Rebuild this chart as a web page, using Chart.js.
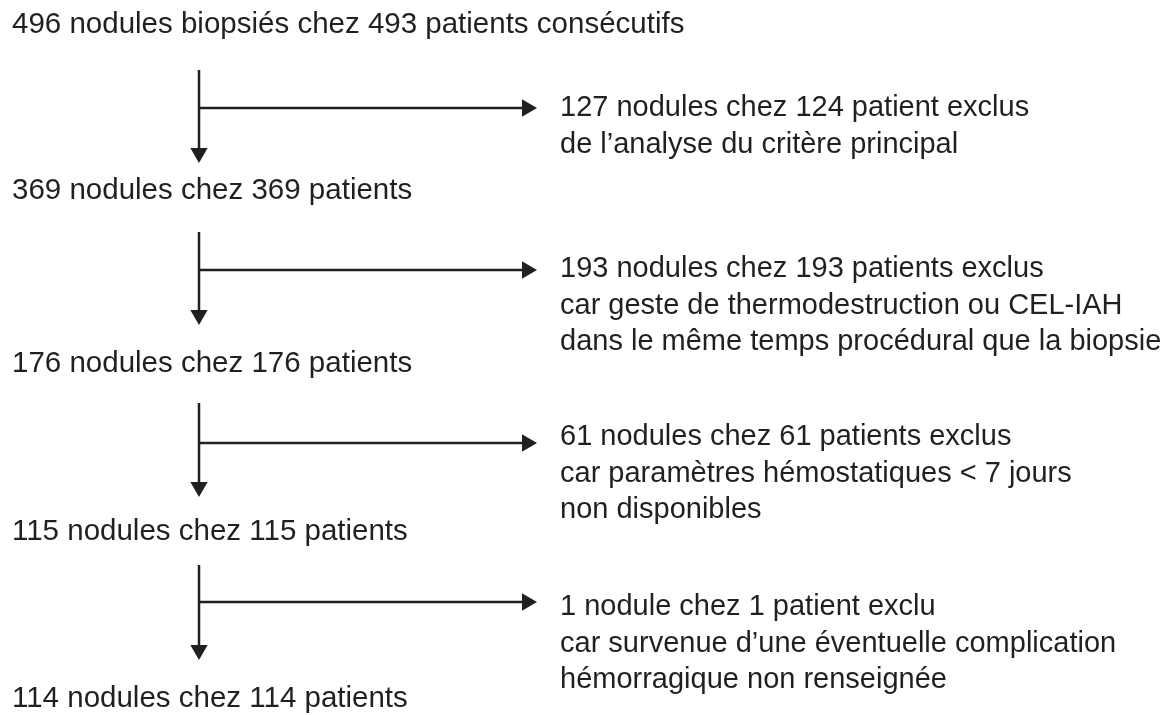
<!DOCTYPE html>
<html lang="fr">
<head>
    <meta charset="utf-8">
    <script src="https://cdn.jsdelivr.net/npm/chart.js"></script>
    <style>
        body { margin: 0; padding: 0; background-color: #ffffff; }
        #flow-wrap { width: 1176px; height: 715px; }
    </style>
</head>
<body>
    <div id="flow-wrap">
        <canvas id="flowChart" width="1176" height="715"></canvas>
    </div>
    <script>
        // Étapes successives (nodules / patients restants)
        const stages = [
            '496 nodules biopsiés chez 493 patients consécutifs',
            '369 nodules chez 369 patients',
            '176 nodules chez 176 patients',
            '115 nodules chez 115 patients',
            '114 nodules chez 114 patients'
        ];

        // Exclusions à chaque étape
        const exclusions = [
            ['127 nodules chez 124 patient exclus',
             'de l\u2019analyse du critère principal'],
            ['193 nodules chez 193 patients exclus',
             'car geste de thermodestruction ou CEL-IAH',
             'dans le même temps procédural que la biopsie'],
            ['61 nodules chez 61 patients exclus',
             'car paramètres hémostatiques < 7 jours',
             'non disponibles'],
            ['1 nodule chez 1 patient exclu',
             'car survenue d\u2019une éventuelle complication',
             'hémorragique non renseignée']
        ];

        // Mise en page (unités des axes = pixels)
        const layout = {
            stageX: 12,
            stageBaseline: [33, 199, 372, 540, 707],
            stemX: 199,
            stemTop: [70, 232, 403, 565],
            stemTip: [163, 325, 497, 660],
            branchY: [108, 270, 443, 602],
            branchTip: 537,
            exclX: 560,
            exclBaseline: [116, 277, 445, 615],
            lineGap: 36.5,
            headR: 10
        };

        const INK = '#231f20';
        const STAGE_FONT = '29.5px "Liberation Sans", Arial, sans-serif';
        const EXCL_FONT = '29px "Liberation Sans", Arial, sans-serif';

        const lineSets = [];
        layout.stemTop.forEach((top, i) => {
            lineSets.push({
                data: [{x: layout.stemX, y: top}, {x: layout.stemX, y: layout.stemTip[i] - layout.headR}]
            });
            lineSets.push({
                data: [{x: layout.stemX - 1, y: layout.branchY[i]}, {x: layout.branchTip - layout.headR, y: layout.branchY[i]}]
            });
        });

        const datasets = lineSets.map(d => ({
            data: d.data,
            showLine: true,
            borderColor: INK,
            borderWidth: 2.5,
            pointRadius: 0
        }));

        // Pointes de flèche
        datasets.push({
            data: layout.stemTip.map(t => ({x: layout.stemX, y: t - layout.headR})),
            pointStyle: 'triangle',
            rotation: 180,
            pointRadius: layout.headR,
            backgroundColor: INK,
            borderWidth: 0
        });
        datasets.push({
            data: layout.branchY.map(b => ({x: layout.branchTip - layout.headR, y: b})),
            pointStyle: 'triangle',
            rotation: 90,
            pointRadius: layout.headR,
            backgroundColor: INK,
            borderWidth: 0
        });

        // Texte des étapes et des exclusions
        const flowText = {
            id: 'flowText',
            afterDatasetsDraw(chart) {
                const {ctx, scales: {x, y}} = chart;
                ctx.save();
                ctx.fillStyle = INK;
                ctx.textAlign = 'left';
                ctx.textBaseline = 'alphabetic';
                ctx.font = STAGE_FONT;
                stages.forEach((label, i) => {
                    ctx.fillText(label, x.getPixelForValue(layout.stageX), y.getPixelForValue(layout.stageBaseline[i]));
                });
                ctx.font = EXCL_FONT;
                exclusions.forEach((lines, i) => {
                    lines.forEach((line, j) => {
                        ctx.fillText(line, x.getPixelForValue(layout.exclX),
                            y.getPixelForValue(layout.exclBaseline[i] + j * layout.lineGap));
                    });
                });
                ctx.restore();
            }
        };

        new Chart(document.getElementById('flowChart').getContext('2d'), {
            type: 'scatter',
            data: { datasets: datasets },
            options: {
                responsive: false,
                animation: false,
                devicePixelRatio: 1,
                events: [],
                layout: { padding: 0, autoPadding: false },
                plugins: { legend: { display: false }, tooltip: { enabled: false } },
                scales: {
                    x: { type: 'linear', min: 0, max: 1176, display: false },
                    y: { type: 'linear', min: 0, max: 715, reverse: true, display: false }
                }
            },
            plugins: [flowText]
        });
    </script>
</body>
</html>
